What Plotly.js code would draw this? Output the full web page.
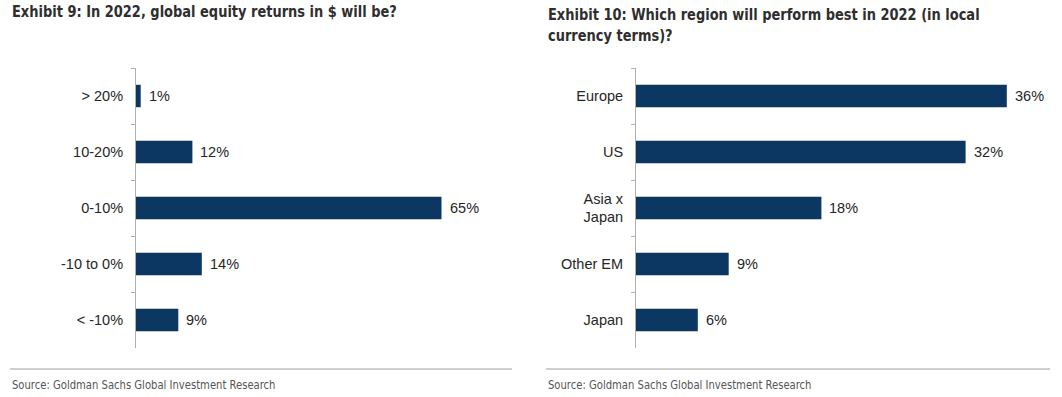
<!DOCTYPE html>
<html><head><meta charset="utf-8">
<script src="https://cdn.plot.ly/plotly-3.0.1.min.js"></script>
<style>html,body{margin:0;padding:0;background:#fff}#c{width:1062px;height:397px}</style>
</head><body><div id="c"></div>
<script>
const returnBuckets = ["> 20%", "10-20%", "0-10%", "-10 to 0%", "< -10%"];
const returnShares = [1, 12, 65, 14, 9];
const regions = ["Europe", "US", "Asia x<br>Japan", "Other EM", "Japan"];
const regionShares = [36, 32, 18, 9, 6];
const title1 = "Exhibit 9: In 2022, global equity returns in $ will be?";
const title2 = "Exhibit 10: Which region will perform best in 2022 (in local<br>currency terms)?";
const sourceText = "Source: Goldman Sachs Global Investment Research";

const W = 1062, H = 397;
const barColor = "#0b3762";
const condensed = "'Liberation Sans Narrow', 'DejaVu Sans Condensed', Arial, sans-serif";
const sans = "'Liberation Sans', Arial, sans-serif";
const px = v => v / W, py = v => 1 - v / H;

const traces = [
  {type: "bar", orientation: "h", x: returnShares, y: returnBuckets, xaxis: "x", yaxis: "y",
   marker: {color: barColor}, hoverinfo: "none"},
  {type: "bar", orientation: "h", x: regionShares, y: regions, xaxis: "x2", yaxis: "y2",
   marker: {color: barColor}, hoverinfo: "none"}
];

const yBase = {
  type: "category", range: [4.5, -0.5], showline: true, linecolor: "#b0b0b0", linewidth: 1,
  ticks: "outside", tickson: "boundaries", ticklen: 4, tickcolor: "#b0b0b0",
  showgrid: false, zeroline: false, fixedrange: true, ticklabelstandoff: 9,
  tickfont: {family: sans, size: 14.5, color: "#262626"},
  domain: [py(348), py(68)]
};
const xBase = {showline: false, showticklabels: false, showgrid: false, zeroline: false, ticks: ""};

const annotations = [];
returnShares.forEach((v, i) => annotations.push({x: v, y: returnBuckets[i], xref: "x", yref: "y",
  text: v + "%", showarrow: false, xanchor: "left", xshift: 6,
  font: {family: sans, size: 14.5, color: "#262626"}}));
regionShares.forEach((v, i) => annotations.push({x: v, y: regions[i], xref: "x2", yref: "y2",
  text: v + "%", showarrow: false, xanchor: "left", xshift: 6,
  font: {family: sans, size: 14.5, color: "#262626"}}));
annotations.push({xref: "paper", yref: "paper", x: px(10), y: py(12), xanchor: "left", yanchor: "middle",
  text: "<b>" + title1 + "</b>", showarrow: false, align: "left", name: "squeeze",
  font: {family: condensed, size: 16.5, color: "#2e2e2e"}});
annotations.push({xref: "paper", yref: "paper", x: px(546), y: py(3), xanchor: "left", yanchor: "top",
  text: "<b>" + title2.replace("<br>", "</b><br><b>") + "</b>", showarrow: false, align: "left", name: "squeeze",
  font: {family: condensed, size: 16.5, color: "#2e2e2e"}});
annotations.push({xref: "paper", yref: "paper", x: px(10), y: py(385), xanchor: "left", yanchor: "middle",
  text: sourceText, showarrow: false, align: "left", name: "squeeze2", font: {family: condensed, size: 12, color: "#555"}});
annotations.push({xref: "paper", yref: "paper", x: px(546), y: py(385), xanchor: "left", yanchor: "middle",
  text: sourceText, showarrow: false, align: "left", name: "squeeze2", font: {family: condensed, size: 12, color: "#555"}});

const layout = {
  width: W, height: H, margin: {l: 0, r: 0, t: 0, b: 0},
  paper_bgcolor: "#fff", plot_bgcolor: "#fff", showlegend: false, bargap: 0.6,
  xaxis: Object.assign({}, xBase, {domain: [px(136), px(512)], range: [0, 376 / 4.7], anchor: "y"}),
  yaxis: Object.assign({}, yBase, {anchor: "x"}),
  xaxis2: Object.assign({}, xBase, {domain: [px(636), px(1050)], range: [0, 414 / 10.3], anchor: "y2"}),
  yaxis2: Object.assign({}, yBase, {anchor: "x2"}),
  annotations: annotations,
  shapes: [
    {type: "line", xref: "paper", yref: "paper", x0: px(10), x1: px(512), y0: py(369), y1: py(369),
     line: {color: "#a0a0a0", width: 1}},
    {type: "line", xref: "paper", yref: "paper", x0: px(546), x1: px(1050), y0: py(369), y1: py(369),
     line: {color: "#a0a0a0", width: 1}}
  ]
};
Plotly.newPlot("c", traces, layout, {staticPlot: true, displayModeBar: false}).then(gd => {
  // condense titles horizontally to mimic the narrow typeface of the original
  const nodes = gd.querySelectorAll(".annotation");
  nodes.forEach((g, idx) => {
    const a = gd.layout.annotations[idx];
    if (!a) return;
    let s = 0;
    if (a.name === "squeeze") s = 0.875;
    else if (a.name === "squeeze2") s = 0.93;
    if (!s) return;
    const t = g.querySelector("text.annotation-text");
    if (!t) return;
    const x0 = parseFloat(t.getAttribute("x")) || 0;
    t.setAttribute("transform", `translate(${x0},0) scale(${s},1) translate(${-x0},0)`);
  });
});
</script></body></html>
